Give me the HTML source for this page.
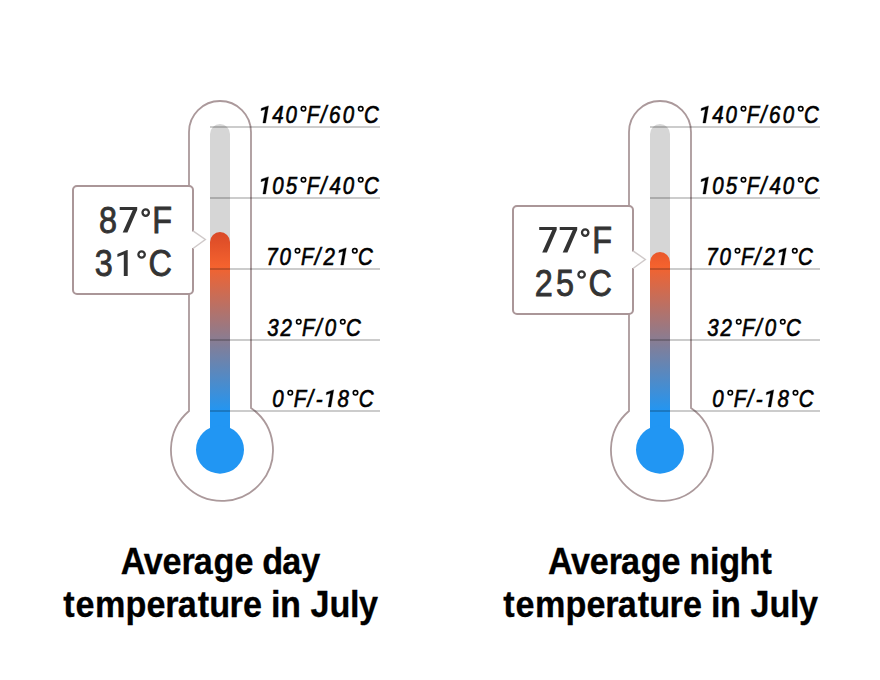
<!DOCTYPE html>
<html>
<head>
<meta charset="utf-8">
<style>
html,body{margin:0;padding:0;background:#fff;}
body{width:880px;height:680px;overflow:hidden;}
svg{display:block;}
text{font-family:"Liberation Sans",sans-serif;}
.lbl{font-style:italic;font-size:22px;fill:#000;stroke:#000;stroke-width:0.6px;}
.big{font-size:36px;fill:#333;stroke:#333;stroke-width:0.85px;}
.hid{fill-opacity:0;stroke-opacity:0;}
.ttl{font-weight:bold;font-size:36px;fill:#000;stroke:#000;stroke-width:0.3px;}
</style>
</head>
<body>
<svg width="880" height="680" viewBox="0 0 880 680">
<defs>
<linearGradient id="merc" gradientUnits="userSpaceOnUse" x1="0" y1="228" x2="0" y2="412">
<stop offset="0" stop-color="#d64626"/>
<stop offset="0.2065" stop-color="#f4622e"/>
<stop offset="1" stop-color="#2196f3"/>
</linearGradient>
</defs>
<g>
<path d="M189,411 L189,132 A31,31 0 0 1 251,132 L251,408 A51,51 0 1 1 189,411 Z" fill="#fff" stroke="#ab999b" stroke-width="1.8"/>
<rect x="210" y="124" width="20" height="310" rx="10" fill="#d6d6d6"/>
<rect x="210" y="232" width="20" height="210" rx="10" fill="url(#merc)"/>
<rect x="210" y="410" width="20" height="30" fill="#2196f3"/>
<circle cx="220" cy="449.7" r="24" fill="#2196f3"/>
<g stroke="#000" stroke-opacity="0.2" stroke-width="2">
<line x1="210" y1="127" x2="380" y2="127"/>
<line x1="210" y1="198" x2="380" y2="198"/>
<line x1="210" y1="269" x2="380" y2="269"/>
<line x1="210" y1="340" x2="380" y2="340"/>
<line x1="210" y1="411" x2="380" y2="411"/>
</g>
<text class="lbl" transform="matrix(0.93 0 0 1.1 0 123.00)" x="279.28 292.72 307.00 321.26 329.95 344.88 353.71 368.57 382.84 391.47" y="0"><tspan class="hid">1</tspan>40<tspan class="hid">°</tspan>F/60<tspan class="hid">°</tspan>C</text>
<polygon points="268.51,105.87 265.63,123.00 262.87,123.00 265.25,109.29 260.93,110.70 261.36,108.26 268.12,105.88" fill="#000" stroke="#000" stroke-width="0.3"/>
<circle cx="303.48" cy="108.81" r="2.24" fill="none" stroke="#000" stroke-width="1.62"/>
<circle cx="360.74" cy="108.81" r="2.24" fill="none" stroke="#000" stroke-width="1.62"/>
<text class="lbl" transform="matrix(0.93 0 0 1.1 0 194.00)" x="279.28 292.77 307.26 321.26 329.95 344.88 354.31 368.57 382.84 391.47" y="0"><tspan class="hid">1</tspan>05<tspan class="hid">°</tspan>F/40<tspan class="hid">°</tspan>C</text>
<polygon points="268.51,176.87 265.63,194.00 262.87,194.00 265.25,180.29 260.93,181.70 261.36,179.26 268.12,176.88" fill="#000" stroke="#000" stroke-width="0.3"/>
<circle cx="303.48" cy="179.81" r="2.24" fill="none" stroke="#000" stroke-width="1.62"/>
<circle cx="360.74" cy="179.81" r="2.24" fill="none" stroke="#000" stroke-width="1.62"/>
<text class="lbl" transform="matrix(0.93 0 0 1.1 0 265.00)" x="286.21 300.62 314.88 323.57 338.52 347.81 362.93 376.45 385.08" y="0">70<tspan class="hid">°</tspan>F/2<tspan class="hid">1</tspan><tspan class="hid">°</tspan>C</text>
<circle cx="297.54" cy="250.81" r="2.24" fill="none" stroke="#000" stroke-width="1.62"/>
<polygon points="346.31,247.87 343.43,265.00 340.67,265.00 343.05,251.29 338.73,252.70 339.16,250.26 345.92,247.88" fill="#000" stroke="#000" stroke-width="0.3"/>
<circle cx="354.81" cy="250.81" r="2.24" fill="none" stroke="#000" stroke-width="1.62"/>
<text class="lbl" transform="matrix(0.93 0 0 1.1 0 336.00)" x="287.41 301.74 316.17 324.86 339.81 349.27 363.53 372.16" y="0">32<tspan class="hid">°</tspan>F/0<tspan class="hid">°</tspan>C</text>
<circle cx="298.74" cy="321.81" r="2.24" fill="none" stroke="#000" stroke-width="1.62"/>
<circle cx="342.79" cy="321.81" r="2.24" fill="none" stroke="#000" stroke-width="1.62"/>
<text class="lbl" transform="matrix(0.93 0 0 1.1 0 407.00)" x="292.85 307.10 315.79 330.74 339.47 349.42 362.91 377.19 385.82" y="0">0<tspan class="hid">°</tspan>F/-<tspan class="hid">1</tspan>8<tspan class="hid">°</tspan>C</text>
<circle cx="290.31" cy="392.81" r="2.24" fill="none" stroke="#000" stroke-width="1.62"/>
<polygon points="333.75,389.87 330.86,407.00 328.11,407.00 330.49,393.29 326.16,394.70 326.60,392.26 333.36,389.88" fill="#000" stroke="#000" stroke-width="0.3"/>
<circle cx="355.50" cy="392.81" r="2.24" fill="none" stroke="#000" stroke-width="1.62"/>
<rect x="73" y="186" width="120" height="108" rx="4" fill="#fff" stroke="#aa9698" stroke-width="2"/>
<rect x="190" y="231.5" width="5" height="16.5" fill="#fff"/>
<polyline points="193,230.8 205.3,239.5 193,248.5" fill="#fff" stroke="#d0caca" stroke-width="1.5"/>
<text class="big" transform="matrix(0.9 0 0 1.033 0 232.60)" x="109.89 131.83 154.89 169.11" y="0">8<tspan class="hid">7</tspan><tspan class="hid">°</tspan>F</text>
<path d="M119.70,206.90 L137.20,206.90 L137.20,209.80 L127.40,232.60 L122.70,232.60 L132.80,209.90 L119.70,209.90 Z" fill="#333"/>
<circle cx="145.70" cy="212.60" r="3.2" fill="none" stroke="#333" stroke-width="2.3"/>
<text class="big" transform="matrix(0.9 0 0 1.033 0 275.90)" x="105.33 125.61 150.33 164.89" y="0">3<tspan class="hid">1</tspan><tspan class="hid">°</tspan>C</text>
<path d="M127.7,250.10 L127.7,275.90 L123.8,275.90 L123.8,254.60 L117.4,256.90 L117.4,253.90 L127.0,250.10 Z" fill="#333"/>
<circle cx="141.60" cy="254.50" r="3.2" fill="none" stroke="#333" stroke-width="2.3"/>
<text class="ttl" transform="matrix(0.95 0 0 1.02 0 574.00)" x="127.13 151.37 171.11 191.08 204.08 224.75 246.77 251.77 276.14 297.22 317.19" y="0">Average day</text>
<text class="ttl" transform="matrix(0.95 0 0 1.02 0 616.80)" x="66.61 79.50 100.02 132.08 154.11 174.06 187.08 208.04 220.32 241.66 255.69 260.69 285.30 294.74 299.74 326.86 346.81 368.38 377.89" y="0">temperature in July</text>
</g>
<g transform="translate(440,0)">
<path d="M189,411 L189,132 A31,31 0 0 1 251,132 L251,408 A51,51 0 1 1 189,411 Z" fill="#fff" stroke="#ab999b" stroke-width="1.8"/>
<rect x="210" y="124" width="20" height="310" rx="10" fill="#d6d6d6"/>
<rect x="210" y="252" width="20" height="190" rx="10" fill="url(#merc)"/>
<rect x="210" y="410" width="20" height="30" fill="#2196f3"/>
<circle cx="220" cy="449.7" r="24" fill="#2196f3"/>
<g stroke="#000" stroke-opacity="0.2" stroke-width="2">
<line x1="210" y1="127" x2="380" y2="127"/>
<line x1="210" y1="198" x2="380" y2="198"/>
<line x1="210" y1="269" x2="380" y2="269"/>
<line x1="210" y1="340" x2="380" y2="340"/>
<line x1="210" y1="411" x2="380" y2="411"/>
</g>
<text class="lbl" transform="matrix(0.93 0 0 1.1 0 123.00)" x="279.28 292.72 307.00 321.26 329.95 344.88 353.71 368.57 382.84 391.47" y="0"><tspan class="hid">1</tspan>40<tspan class="hid">°</tspan>F/60<tspan class="hid">°</tspan>C</text>
<polygon points="268.51,105.87 265.63,123.00 262.87,123.00 265.25,109.29 260.93,110.70 261.36,108.26 268.12,105.88" fill="#000" stroke="#000" stroke-width="0.3"/>
<circle cx="303.48" cy="108.81" r="2.24" fill="none" stroke="#000" stroke-width="1.62"/>
<circle cx="360.74" cy="108.81" r="2.24" fill="none" stroke="#000" stroke-width="1.62"/>
<text class="lbl" transform="matrix(0.93 0 0 1.1 0 194.00)" x="279.28 292.77 307.26 321.26 329.95 344.88 354.31 368.57 382.84 391.47" y="0"><tspan class="hid">1</tspan>05<tspan class="hid">°</tspan>F/40<tspan class="hid">°</tspan>C</text>
<polygon points="268.51,176.87 265.63,194.00 262.87,194.00 265.25,180.29 260.93,181.70 261.36,179.26 268.12,176.88" fill="#000" stroke="#000" stroke-width="0.3"/>
<circle cx="303.48" cy="179.81" r="2.24" fill="none" stroke="#000" stroke-width="1.62"/>
<circle cx="360.74" cy="179.81" r="2.24" fill="none" stroke="#000" stroke-width="1.62"/>
<text class="lbl" transform="matrix(0.93 0 0 1.1 0 265.00)" x="286.21 300.62 314.88 323.57 338.52 347.81 362.93 376.45 385.08" y="0">70<tspan class="hid">°</tspan>F/2<tspan class="hid">1</tspan><tspan class="hid">°</tspan>C</text>
<circle cx="297.54" cy="250.81" r="2.24" fill="none" stroke="#000" stroke-width="1.62"/>
<polygon points="346.31,247.87 343.43,265.00 340.67,265.00 343.05,251.29 338.73,252.70 339.16,250.26 345.92,247.88" fill="#000" stroke="#000" stroke-width="0.3"/>
<circle cx="354.81" cy="250.81" r="2.24" fill="none" stroke="#000" stroke-width="1.62"/>
<text class="lbl" transform="matrix(0.93 0 0 1.1 0 336.00)" x="287.41 301.74 316.17 324.86 339.81 349.27 363.53 372.16" y="0">32<tspan class="hid">°</tspan>F/0<tspan class="hid">°</tspan>C</text>
<circle cx="298.74" cy="321.81" r="2.24" fill="none" stroke="#000" stroke-width="1.62"/>
<circle cx="342.79" cy="321.81" r="2.24" fill="none" stroke="#000" stroke-width="1.62"/>
<text class="lbl" transform="matrix(0.93 0 0 1.1 0 407.00)" x="292.85 307.10 315.79 330.74 339.47 349.42 362.91 377.19 385.82" y="0">0<tspan class="hid">°</tspan>F/-<tspan class="hid">1</tspan>8<tspan class="hid">°</tspan>C</text>
<circle cx="290.31" cy="392.81" r="2.24" fill="none" stroke="#000" stroke-width="1.62"/>
<polygon points="333.75,389.87 330.86,407.00 328.11,407.00 330.49,393.29 326.16,394.70 326.60,392.26 333.36,389.88" fill="#000" stroke="#000" stroke-width="0.3"/>
<circle cx="355.50" cy="392.81" r="2.24" fill="none" stroke="#000" stroke-width="1.62"/>
<rect x="73" y="206" width="120" height="108" rx="4" fill="#fff" stroke="#aa9698" stroke-width="2"/>
<rect x="190" y="251.5" width="5" height="16.5" fill="#fff"/>
<polyline points="193,250.8 205.3,259.5 193,268.5" fill="#fff" stroke="#d0caca" stroke-width="1.5"/>
<text class="big" transform="matrix(0.9 0 0 1.033 0 252.60)" x="109.11 131.83 154.33 169.11" y="0"><tspan class="hid">7</tspan><tspan class="hid">7</tspan><tspan class="hid">°</tspan>F</text>
<path d="M99.20,226.90 L116.70,226.90 L116.70,229.80 L106.90,252.60 L102.20,252.60 L112.30,229.90 L99.20,229.90 Z" fill="#333"/>
<path d="M119.70,226.90 L137.20,226.90 L137.20,229.80 L127.40,252.60 L122.70,252.60 L132.80,229.90 L119.70,229.90 Z" fill="#333"/>
<circle cx="145.20" cy="232.60" r="3.2" fill="none" stroke="#333" stroke-width="2.3"/>
<text class="big" transform="matrix(0.9 0 0 1.033 0 295.90)" x="105.39 128.94 150.33 164.89" y="0">25<tspan class="hid">°</tspan>C</text>
<circle cx="141.60" cy="274.50" r="3.2" fill="none" stroke="#333" stroke-width="2.3"/>
<text class="ttl" transform="matrix(0.95 0 0 1.02 0 574.00)" x="113.66 137.89 157.63 177.61 190.61 211.27 233.29 238.29 262.31 284.14 294.07 315.22 337.24" y="0">Average night</text>
<text class="ttl" transform="matrix(0.95 0 0 1.02 0 616.80)" x="66.61 79.50 100.02 132.08 154.11 174.06 187.08 208.04 220.32 241.66 255.69 260.69 285.30 294.74 299.74 326.86 346.81 368.38 377.89" y="0">temperature in July</text>
</g>
</svg>
</body>
</html>
